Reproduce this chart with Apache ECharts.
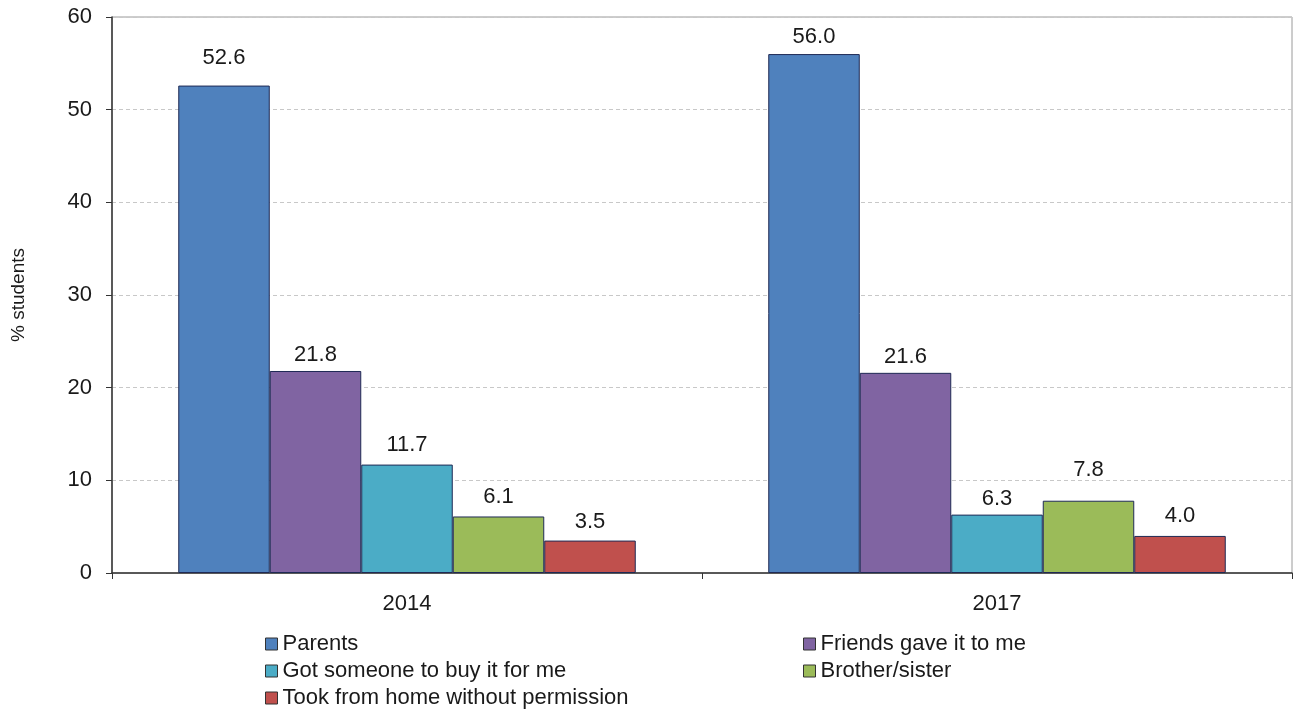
<!DOCTYPE html>
<html><head><meta charset="utf-8">
<script src="https://cdn.jsdelivr.net/npm/echarts@6/dist/echarts.min.js"></script>
<style>html,body{margin:0;padding:0;background:#fff}#c{width:1295px;height:709px}</style>
</head><body><div id="c"></div>
<script>
const categories = ['2014', '2017'];
const seriesNames = ['Parents', 'Friends gave it to me', 'Got someone to buy it for me', 'Brother/sister', 'Took from home without permission'];
const parents = [52.6, 56.0];
const friends = [21.8, 21.6];
const gotSomeone = [11.7, 6.3];
const brother = [6.1, 7.8];
const took = [3.5, 4.0];
const yTicks = [0, 10, 20, 30, 40, 50, 60];
const colors = ['#4F81BD', '#8064A2', '#4BACC6', '#9BBB59', '#C0504D'];
const values = [parents, friends, gotSomeone, brother, took];

// label placement tweaks (series index, category index) -> label distance
const labelDistances = [[17, 6], [5, 5], [9, 5], [9, 20], [8, 9]];

const chart = echarts.init(document.getElementById('c'), null, {renderer: 'canvas'});
const font = 'Liberation Sans, Arial, sans-serif';
const legendText = {fontSize: 22, lineHeight: 22, color: '#1a1a1a', fontFamily: font};
chart.setOption({
  animation: false,
  textStyle: {fontFamily: font},
  grid: {left: 112, right: 3, top: 17, bottom: 136, show: true, borderColor: '#9a9a9a', borderWidth: 1, backgroundColor: 'transparent'},
  legend: [
    {data: [seriesNames[0], seriesNames[2], seriesNames[4]], orient: 'vertical', left: 260, top: 628, height: 100, itemWidth: 12, itemHeight: 12, itemGap: 5,
     icon: 'rect', textStyle: legendText, itemStyle: {borderColor: '#333', borderWidth: 1}},
    {data: [seriesNames[1], seriesNames[3]], orient: 'vertical', left: 798, top: 628, height: 100, itemWidth: 12, itemHeight: 12, itemGap: 5,
     icon: 'rect', textStyle: legendText, itemStyle: {borderColor: '#333', borderWidth: 1}}
  ],
  xAxis: {
    type: 'category', data: categories,
    axisLine: {lineStyle: {color: '#333', width: 1.5}},
    axisTick: {show: true, length: 6, lineStyle: {color: '#333'}},
    axisLabel: {fontSize: 22, color: '#1a1a1a', margin: 20}
  },
  yAxis: {
    type: 'value', min: 0, max: 60, interval: 10,
    name: '% students', nameLocation: 'middle', nameGap: 84, nameRotate: 90,
    nameTextStyle: {fontSize: 19, color: '#1a1a1a'},
    axisLine: {show: true, lineStyle: {color: '#333', width: 1.5}},
    axisTick: {show: true, length: 6, lineStyle: {color: '#333'}},
    axisLabel: {fontSize: 22, color: '#1a1a1a', margin: 20, formatter: v => yTicks.includes(v) ? String(v) : ''},
    splitLine: {show: true, lineStyle: {color: '#c8c8c8', type: [4, 3], width: 1}}
  },
  series: seriesNames.map((n, i) => ({
    name: n, type: 'bar', barWidth: 91.5, barGap: '0%',
    data: values[i].map((v, j) => ({value: v, label: {distance: labelDistances[i][j]}})),
    itemStyle: {color: colors[i], borderColor: '#1f2a55', borderWidth: 1},
    label: {show: true, position: 'top', fontSize: 22, color: '#1a1a1a', formatter: p => Number(p.value).toFixed(1)}
  }))
});
</script></body></html>
